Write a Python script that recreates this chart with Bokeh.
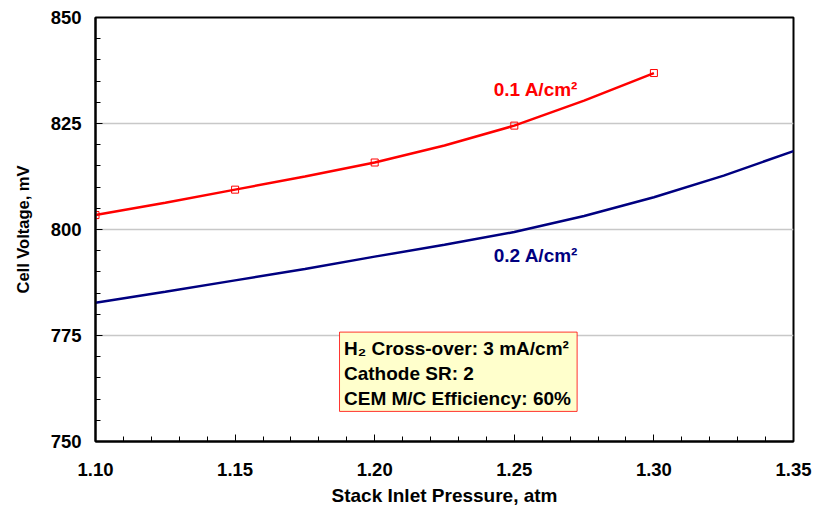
from bokeh.plotting import figure
from bokeh.models import Range1d, SingleIntervalTicker, NumeralTickFormatter, Label, BoxAnnotation
from bokeh.embed import file_html
from bokeh.resources import INLINE

# ---- data ----
pressure_markers_01 = [1.10, 1.15, 1.20, 1.25, 1.30]
voltage_markers_01 = [803.4, 809.4, 815.8, 824.5, 836.9]

pressure_curve_01 = [1.10, 1.125, 1.15, 1.175, 1.20, 1.225, 1.25, 1.275, 1.30]
voltage_curve_01 = [803.4, 806.3, 809.4, 812.5, 815.8, 819.8, 824.5, 830.4, 836.9]

pressure_curve_02 = [1.10, 1.125, 1.15, 1.175, 1.20, 1.225, 1.25, 1.275, 1.30, 1.325, 1.35]
voltage_curve_02 = [782.7, 785.3, 788.0, 790.7, 793.6, 796.4, 799.4, 803.2, 807.6, 812.7, 818.5]

series_labels = ["0.1 A/cm\u00b2", "0.2 A/cm\u00b2"]
note_lines = ["H\u2082 Cross-over: 3 mA/cm\u00b2", "Cathode SR: 2", "CEM M/C Efficiency: 60%"]
x_title = "Stack Inlet Pressure, atm"
y_title = "Cell Voltage, mV"

FONT = "Liberation Sans"
RED = "#ff0000"
NAVY = "#000080"

p = figure(width=822, height=512, output_backend="svg", toolbar_location=None,
           x_range=Range1d(1.10, 1.35), y_range=Range1d(750, 850),
           min_border_left=95, min_border_right=29, min_border_top=17, min_border_bottom=71)

p.background_fill_color = "white"
p.border_fill_color = "white"
p.outline_line_color = "black"
p.outline_line_width = 2

p.xgrid.visible = False
p.ygrid.grid_line_color = "#c8c8c8"
p.ygrid.grid_line_width = 1.5

p.xaxis.ticker = SingleIntervalTicker(interval=0.05, num_minor_ticks=5)
p.yaxis.ticker = SingleIntervalTicker(interval=25, num_minor_ticks=5)
p.xaxis.formatter = NumeralTickFormatter(format="0.00")
p.yaxis.formatter = NumeralTickFormatter(format="0")

for ax in (p.xaxis[0], p.yaxis[0]):
    ax.axis_line_color = "black"
    ax.axis_line_width = 2
    ax.major_tick_in = 7
    ax.major_tick_out = 0
    ax.minor_tick_in = 5
    ax.minor_tick_out = 0
    ax.major_tick_line_color = "black"
    ax.minor_tick_line_color = "black"
    ax.major_label_text_font = FONT
    ax.major_label_text_font_style = "bold"
    ax.major_label_text_font_size = "18.5px"
    ax.major_label_text_color = "black"
    ax.axis_label_text_font = FONT
    ax.axis_label_text_font_style = "bold"
    ax.axis_label_text_color = "black"

p.xaxis.axis_label = x_title
p.yaxis.axis_label = y_title
p.xaxis.axis_label_text_font_size = "19px"
p.yaxis.axis_label_text_font_size = "16.5px"
p.xaxis.major_label_standoff = 21
p.yaxis.major_label_standoff = 14
p.xaxis.axis_label_standoff = 6
p.yaxis.axis_label_standoff = 16

# curves
p.line(pressure_curve_02, voltage_curve_02, line_color=NAVY, line_width=2.5)
p.line(pressure_curve_01, voltage_curve_01, line_color=RED, line_width=2.5)
p.scatter(pressure_markers_01, voltage_markers_01, marker="square", size=7,
          fill_color="white", fill_alpha=0, line_color=RED, line_width=1)

# series labels
p.add_layout(Label(x=1.2426, y=833.0, text=series_labels[0], text_color=RED,
                   text_font=FONT, text_font_style="bold", text_font_size="19px",
                   text_baseline="middle"))
p.add_layout(Label(x=1.2426, y=793.9, text=series_labels[1], text_color=NAVY,
                   text_font=FONT, text_font_style="bold", text_font_size="19px",
                   text_baseline="middle"))

# note box
p.add_layout(BoxAnnotation(left=1.1874, right=1.2725, top=775.8, bottom=757.1,
                           fill_color="#ffffcc", fill_alpha=1.0,
                           line_color=RED, line_width=1, line_alpha=0.8))
for txt, yy in zip(note_lines, [772.0, 766.0, 760.1]):
    p.add_layout(Label(x=1.1890, y=yy, text=txt, text_color="black",
                       text_font=FONT, text_font_style="bold", text_font_size="19px",
                       text_baseline="middle"))

open("out.html", "w").write(file_html(p, INLINE))
